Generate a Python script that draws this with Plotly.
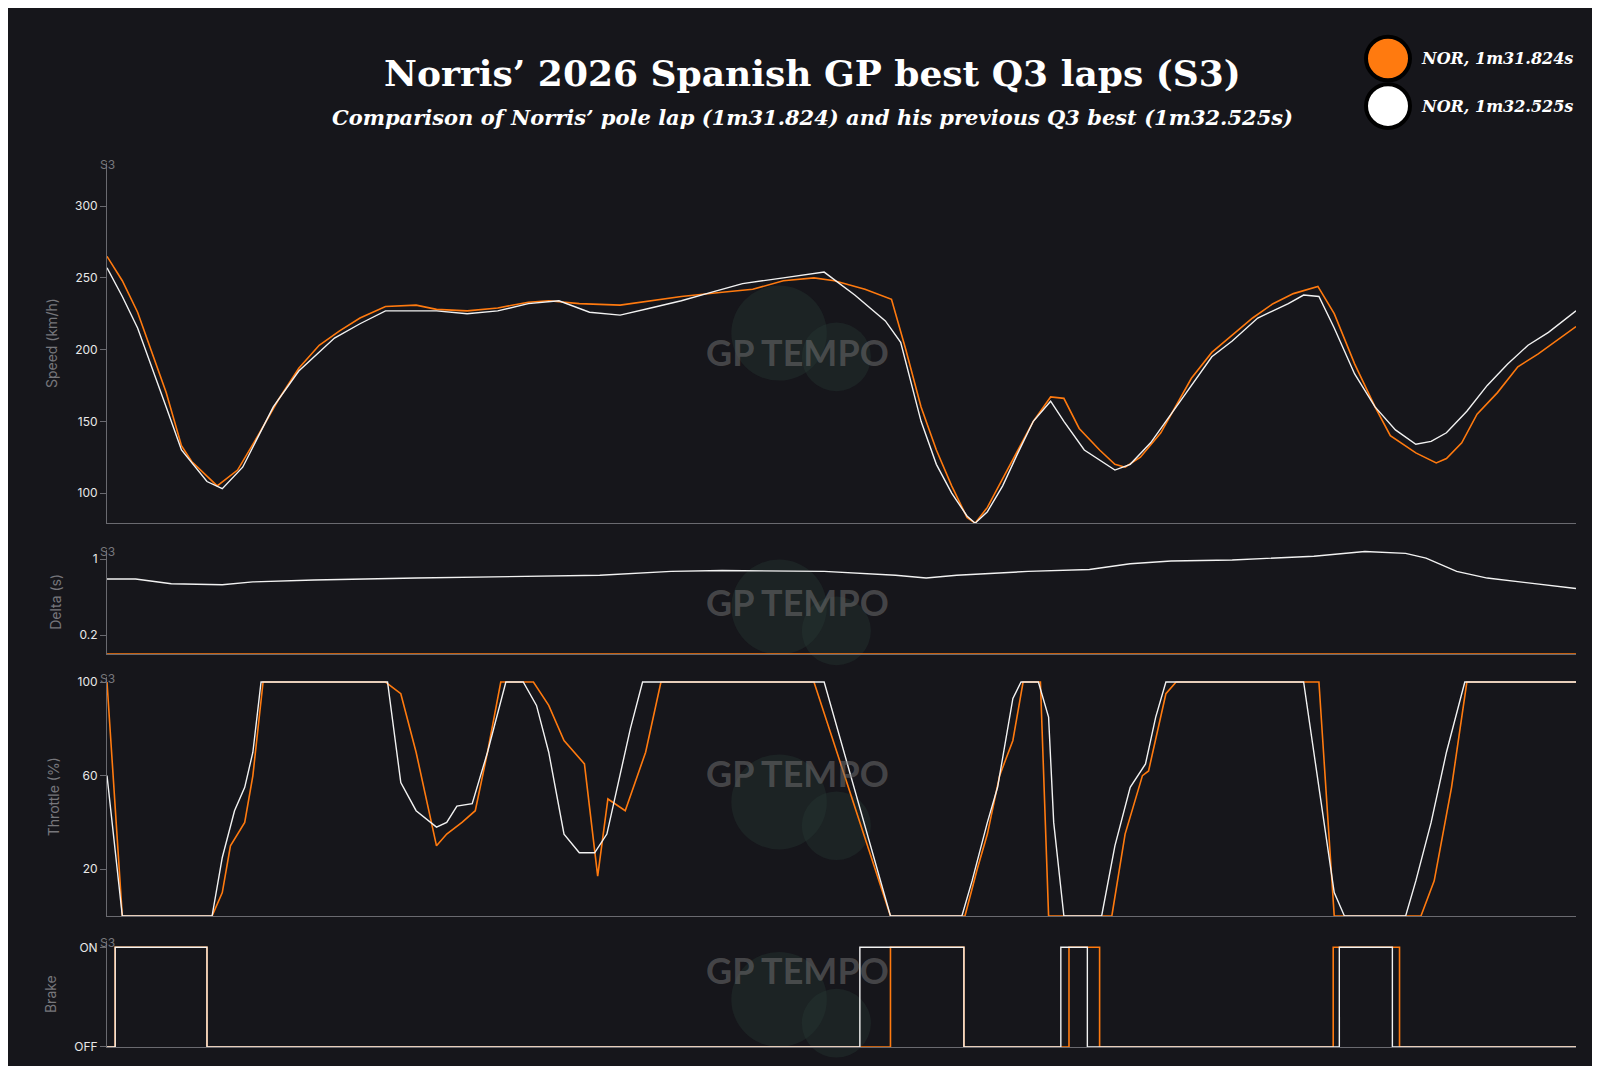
import plotly.graph_objects as go
from plotly.subplots import make_subplots

ORANGE = "#ff7a0f"
WHITE = "#f2f2f2"
BG = "#16161b"

# distance along S3 (m), speed (km/h)
spd_o_x = [0,15,30,43,58,73,83,108,128,148,168,188,208,228,248,273,303,323,353,383,413,433,463,503,533,563,603,633,663,693,713,743,769,783,798,813,828,843,851,863,878,893,908,925,938,953,973,988,998,1013,1033,1063,1083,1103,1123,1143,1163,1187,1203,1223,1243,1258,1283,1303,1313,1328,1343,1363,1383,1403,1423,1440]
spd_o = [265,248,226,200,170,133,122,105,116,140,165,187,203,213,222,230,231,228,227,229,233,234,232,231,234,237,240,242,248,250,248,242,235,200,160,130,105,83,79,90,110,130,150,167,166,145,130,120,118,125,142,180,198,210,222,232,239,244,225,190,160,140,128,121,124,135,155,170,188,197,207,216]
spd_w_x = [0,15,30,43,58,73,98,113,133,163,188,223,248,273,323,353,383,413,443,473,503,533,563,593,623,663,703,733,763,778,798,813,828,843,851,863,878,893,908,925,938,958,988,1003,1023,1053,1083,1103,1128,1158,1173,1188,1203,1223,1243,1263,1283,1298,1313,1333,1353,1373,1393,1413,1440]
spd_w = [257,237,215,190,160,130,108,103,118,160,185,208,218,227,227,225,227,232,234,226,224,229,234,240,246,250,254,238,220,205,150,120,100,84,79,87,105,128,150,164,150,130,116,120,135,165,195,206,222,232,238,237,215,183,160,144,134,136,142,157,175,190,203,212,227]

# delta (s)
dlt_x = [0,28,63,113,143,203,303,403,483,553,603,703,773,803,813,833,903,963,1003,1043,1103,1183,1233,1273,1293,1323,1353,1403,1440]
dlt_w = [0.79,0.79,0.74,0.73,0.76,0.78,0.80,0.82,0.83,0.87,0.88,0.87,0.83,0.80,0.81,0.83,0.87,0.89,0.95,0.98,0.99,1.03,1.08,1.06,1.01,0.87,0.80,0.74,0.69]
dlt_o_x = [0,1440]
dlt_o = [0,0]

# throttle (%)
thr_o_x = [0,15,103,113,121,128,135,143,153,273,288,303,323,333,348,361,373,386,418,433,448,468,481,491,508,528,543,693,768,841,853,863,875,888,898,915,923,985,998,1015,1021,1038,1048,1188,1203,1288,1301,1318,1333,1440]
thr_o = [100,0,0,10,30,35,40,60,100,100,95,70,30,35,40,45,70,100,100,90,75,65,17,50,45,70,100,100,0,0,20,35,60,75,100,100,0,0,35,60,62,95,100,100,0,0,15,55,100,100]
thr_w_x = [0,15,103,113,125,135,143,151,275,288,303,323,333,343,358,373,391,408,421,433,448,463,478,490,513,525,703,768,838,848,863,873,888,896,913,923,928,938,975,988,1003,1018,1028,1038,1173,1183,1203,1213,1273,1283,1298,1313,1331,1440]
thr_w = [60,0,0,25,45,55,70,100,100,57,45,38,40,47,48,70,100,100,90,70,35,27,27,35,80,100,100,0,0,15,40,55,93,100,100,85,40,0,0,30,55,65,85,100,100,70,10,0,0,15,40,70,100,100]

# brake (0 = OFF, 1 = ON), step after each point
brk_o_x = [0,8,98,768,840,943,973,1202,1267,1440]
brk_o = [0,1,0,1,0,1,0,1,0,0]
brk_w_x = [0,8,98,738,840,935,961,1208,1260,1440]
brk_w = [0,1,0,1,0,1,0,1,0,0]

fig = make_subplots(rows=4, cols=1, shared_xaxes=False)

def add(row, xo, yo, xw, yw, shape="linear"):
    fig.add_trace(go.Scatter(x=xo, y=yo, mode="lines", line=dict(color=ORANGE, width=1.6, shape=shape),
                             showlegend=False), row=row, col=1)
    fig.add_trace(go.Scatter(x=xw, y=yw, mode="lines", line=dict(color=WHITE, width=1.4, shape=shape),
                             showlegend=False), row=row, col=1)

add(1, spd_o_x, spd_o, spd_w_x, spd_w)
add(2, dlt_o_x, dlt_o, dlt_x, dlt_w)
add(3, thr_o_x, thr_o, thr_w_x, thr_w)
add(4, brk_o_x, brk_o, brk_w_x, brk_w, shape="hv")

domains = [(0.515, 0.856), (0.391, 0.490), (0.143, 0.369), (0.019, 0.119)]
titles = ["Speed (km/h)", "Delta (s)", "Throttle (%)", "Brake"]
yranges = [[79, 330], [0, 1.1], [0, 102], [0, 1.06]]
ticks = [([100,150,200,250,300], None), ([0.2, 1], ["0.2", "1"]), ([20,60,100], None), ([0,1], ["OFF","ON"])]
axis_col = "#6a6a70"
for i in range(4):
    n = "" if i == 0 else str(i + 1)
    fig.layout["xaxis" + n].update(domain=[0, 1], range=[0, 1440], showgrid=False, zeroline=False,
                                   showticklabels=False, showline=True, linecolor=axis_col, ticks="")
    fig.layout["yaxis" + n].update(domain=list(domains[i]), range=yranges[i], showgrid=False, zeroline=False,
                                   showline=True, linecolor=axis_col, ticks="outside", ticklen=6,
                                   tickcolor=axis_col, tickvals=ticks[i][0], ticktext=ticks[i][1],
                                   tickfont=dict(family="Inter", size=12, color="#e8e8e8"),
                                   title=dict(text=titles[i], font=dict(family="Inter", size=14, color="#77777c"),
                                              standoff=14))
    ytop = domains[i][1]
    fig.add_annotation(xref="paper", yref="paper", x=0, y=ytop, text="S3", showarrow=False,
                       xanchor="center", yanchor="top", yshift=8,
                       font=dict(family="Inter", size=12, color="#77777c"))
    # watermark
    cy = (domains[i][0] + domains[i][1]) / 2 if i != 0 else 0.70
    fig.add_shape(type="circle", xref="paper", yref="paper", x0=0.425, x1=0.49, y0=cy - 0.05, y1=cy + 0.04,
                  fillcolor="rgba(40,60,55,0.35)", line_width=0, layer="below")
    fig.add_shape(type="circle", xref="paper", yref="paper", x0=0.473, x1=0.52, y0=cy - 0.06, y1=cy + 0.005,
                  fillcolor="rgba(40,60,55,0.35)", line_width=0, layer="below")
    fig.add_annotation(xref="paper", yref="paper", x=0.47, y=cy, text="<b>GP TEMPO</b>", showarrow=False,
                       font=dict(family="Lato", size=36, color="rgba(110,110,110,0.55)"))

fig.add_annotation(xref="paper", yref="paper", x=0.48, y=1 - 63 / 1066, xanchor="center", yanchor="middle",
                   text="<b>Norris’ 2026 Spanish GP best Q3 laps (S3)</b>", showarrow=False,
                   font=dict(family="DejaVu Serif", size=36, color="white"))
fig.add_annotation(xref="paper", yref="paper", x=0.48, y=1 - 108 / 1066, xanchor="center", yanchor="middle",
                   text="<b><i>Comparison of Norris’ pole lap (1m31.824) and his previous Q3 best (1m32.525s)</i></b>",
                   showarrow=False, font=dict(family="DejaVu Serif", size=21, color="white"))

for yy, col, lab in [(48, ORANGE, "NOR, 1m31.824s"), (96, "white", "NOR, 1m32.525s")]:
    yp = 1 - yy / 1066
    fig.add_shape(type="circle", xref="paper", yref="paper", x0=(1358 - 99) / 1469, x1=(1402 - 99) / 1469,
                  y0=yp - 22 / 1066, y1=yp + 22 / 1066, fillcolor=col, line=dict(color="black", width=4))
    fig.add_annotation(xref="paper", yref="paper", x=(1411 - 99) / 1469, y=yp, xanchor="left", yanchor="middle",
                       text="<b><i>" + lab + "</i></b>", showarrow=False,
                       font=dict(family="DejaVu Serif", size=16, color="white"))

fig.update_layout(width=1600, height=1066, paper_bgcolor=BG, plot_bgcolor=BG,
                  margin=dict(l=99, r=32, t=0, b=0), showlegend=False)
fig.write_html("out.html")
